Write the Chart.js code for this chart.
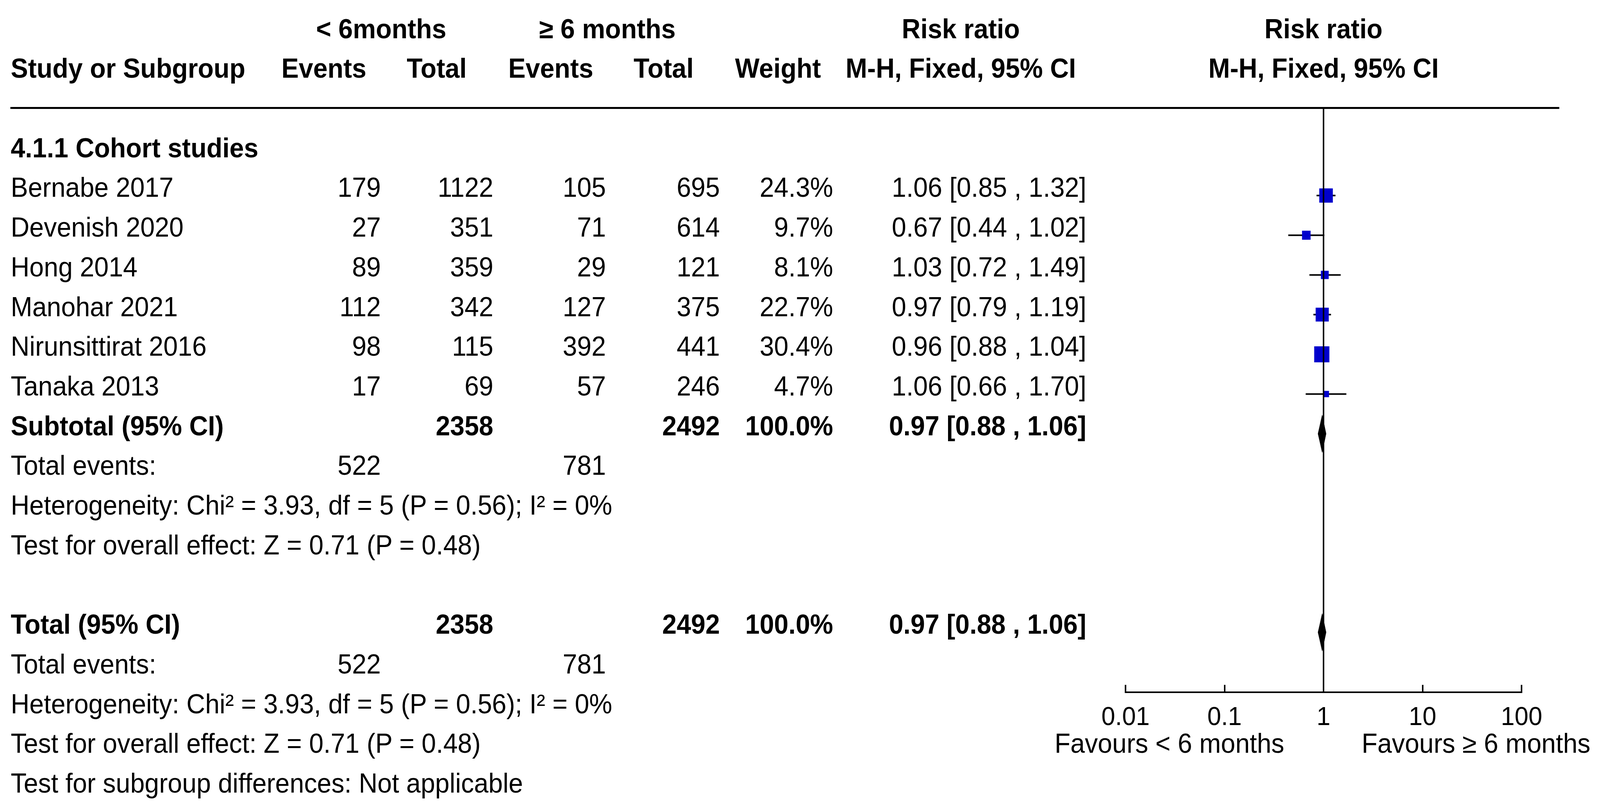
<!DOCTYPE html>
<html>
<head>
<meta charset="utf-8">
<script src="https://cdn.jsdelivr.net/npm/chart.js"></script>
<style>
  html, body { margin: 0; padding: 0; background: #fff; overflow: hidden; }
  #wrap { position: relative; width: 4323px; height: 2072px; overflow: hidden; transform-origin: 0 0; }
  #wrap canvas { position: absolute; left: 0; top: 0; }
  .t { position: absolute; font-family: "Liberation Sans", Arial, sans-serif; font-size: 70px;
       line-height: 70px; height: 70px; white-space: pre; color: #000; }
  .b { font-weight: bold; }
  #rule { position: absolute; left: 28px; width: 4185px; top: 274px; height: 5px; background: #000; }
</style>
</head>
<body>
<div id="wrap"><canvas id="forest" width="4323" height="2072"></canvas><div id="rule"></div></div>
<script>
const FONT = '"Liberation Sans", Arial, sans-serif';
Chart.defaults.font.family = FONT;

// studies in subgroup 4.1.1
const studies = ['Bernabe 2017', 'Devenish 2020', 'Hong 2014', 'Manohar 2021', 'Nirunsittirat 2016', 'Tanaka 2013'];
const eventsLt6 = [179, 27, 89, 112, 98, 17];
const totalLt6 = [1122, 351, 359, 342, 115, 69];
const eventsGe6 = [105, 71, 29, 127, 392, 57];
const totalGe6 = [695, 614, 121, 375, 441, 246];
const weights = [24.3, 9.7, 8.1, 22.7, 30.4, 4.7];
const rr = [1.06, 0.67, 1.03, 0.97, 0.96, 1.06];
const rrLow = [0.85, 0.44, 0.72, 0.79, 0.88, 0.66];
const rrHigh = [1.32, 1.02, 1.49, 1.19, 1.04, 1.70];

// pooled: estimate, lower, upper
const subtotalRR = [0.97, 0.88, 1.06];
const totalRR = [0.97, 0.88, 1.06];
const hetChi2 = 3.93, hetDf = 5, hetP = 0.56, hetI2 = 0;
const effectZ = 0.71, effectP = 0.48;

const tickValues = [0.01, 0.1, 1, 10, 100];
const tickLabels = ['0.01', '0.1', '1', '10', '100'];

// layout (rows are y values, 0 = subgroup heading)
const ROW_SUBTOTAL = 7, ROW_TOTAL = 12;
const Y_MIN = -1.2, Y_MAX = 13.51;
const DIAMOND_H = 0.47;
const COL = { study: 29, ev1: 1029, tot1: 1333, ev2: 1637, tot2: 1945, weight: 2251, ci: 2935 };
const ASC = 59.26;     // baseline offset inside a 70px line box
const BASE_DROP = 4;   // text baseline sits a little below the marker centre

const sum = a => a.reduce((s, v) => s + v, 0);
const ciText = ([e, l, h]) => `${e.toFixed(2)} [${l.toFixed(2)} , ${h.toFixed(2)}]`;

const whiskers = studies.map((s, i) => ({
  type: 'line',
  data: [{ x: rrLow[i], y: i + 1 }, { x: rrHigh[i], y: i + 1 }],
  borderColor: '#000', borderWidth: 4, pointRadius: 0, fill: false, order: 3
}));

const squares = {
  type: 'scatter',
  data: rr.map((v, i) => ({ x: v, y: i + 1 })),
  pointStyle: 'rect',
  pointRadius: weights.map(w => 7.44 * Math.sqrt(w) / Math.SQRT2),
  backgroundColor: '#0000CC', borderWidth: 0, order: 2
};

function diamond([e, l, h], row) {
  return {
    type: 'line',
    data: [{ x: l, y: row }, { x: e, y: row - DIAMOND_H }, { x: h, y: row },
           { x: e, y: row + DIAMOND_H }, { x: l, y: row }],
    borderColor: '#000', borderWidth: 1, backgroundColor: '#000',
    fill: 'shape', pointRadius: 0, tension: 0, order: 1
  };
}

const refLine = {
  type: 'line',
  data: [{ x: 1, y: Y_MIN }, { x: 1, y: Y_MAX }],
  borderColor: '#000', borderWidth: 4, pointRadius: 0, fill: false, order: 0
};

const chart = new Chart(document.getElementById('forest'), {
  type: 'scatter',
  data: { datasets: [refLine, diamond(subtotalRR, ROW_SUBTOTAL), diamond(totalRR, ROW_TOTAL), squares, ...whiskers] },
  options: {
    responsive: false,
    animation: false,
    events: [],
    layout: { padding: { left: 3041, right: 212, top: 277, bottom: 159 } },
    plugins: { legend: { display: false }, tooltip: { enabled: false } },
    scales: {
      x: {
        type: 'logarithmic',
        min: 0.01, max: 100,
        afterBuildTicks: s => { s.ticks = tickValues.map(v => ({ value: v })); },
        afterFit: s => { s.height = 140; },
        ticks: {
          callback: (v, i) => tickLabels[i],
          font: { size: 67 }, color: '#000', padding: 44,
          maxRotation: 0, autoSkip: false
        },
        grid: { drawOnChartArea: false, color: '#000', lineWidth: 4, tickLength: -19, tickWidth: 4 },
        border: { display: true, color: '#000', width: 4 }
      },
      y: { type: 'linear', display: false, reverse: true, min: Y_MIN, max: Y_MAX }
    }
  }
});

const wrap = document.getElementById('wrap');
const xs = chart.scales.x, ys = chart.scales.y;
const x1 = xs.getPixelForValue(1);

function put(str, x, row, align, bold) {
  const d = document.createElement('div');
  d.className = 't' + (bold ? ' b' : '');
  d.textContent = str;
  d.style.top = (ys.getPixelForValue(row) + BASE_DROP - ASC) + 'px';
  if (align === 'left') {
    d.style.left = x + 'px';
  } else if (align === 'right') {
    d.style.left = (x - 1200) + 'px'; d.style.width = '1200px'; d.style.textAlign = 'right';
  } else {
    d.style.left = (x - 1000) + 'px'; d.style.width = '2000px'; d.style.textAlign = 'center';
  }
  wrap.appendChild(d);
}

// header
put('< 6months', 1030, -3, 'center', true);
put('\u2265 6 months', 1641, -3, 'center', true);
put('Risk ratio', 2596, -3, 'center', true);
put('Risk ratio', x1, -3, 'center', true);
put('Study or Subgroup', COL.study, -2, 'left', true);
put('Events', 990, -2, 'right', true);
put('Total', 1261, -2, 'right', true);
put('Events', 1603, -2, 'right', true);
put('Total', 1874, -2, 'right', true);
put('Weight', 2218, -2, 'right', true);
put('M-H, Fixed, 95% CI', 2596, -2, 'center', true);
put('M-H, Fixed, 95% CI', x1, -2, 'center', true);

// subgroup
put('4.1.1 Cohort studies', COL.study, 0, 'left', true);
studies.forEach((s, i) => {
  const r = i + 1;
  put(s, COL.study, r, 'left');
  put(String(eventsLt6[i]), COL.ev1, r, 'right');
  put(String(totalLt6[i]), COL.tot1, r, 'right');
  put(String(eventsGe6[i]), COL.ev2, r, 'right');
  put(String(totalGe6[i]), COL.tot2, r, 'right');
  put(weights[i].toFixed(1) + '%', COL.weight, r, 'right');
  put(ciText([rr[i], rrLow[i], rrHigh[i]]), COL.ci, r, 'right');
});

function summary(label, row, ci) {
  put(label, COL.study, row, 'left', true);
  put(String(sum(totalLt6)), COL.tot1, row, 'right', true);
  put(String(sum(totalGe6)), COL.tot2, row, 'right', true);
  put('100.0%', COL.weight, row, 'right', true);
  put(ciText(ci), COL.ci, row, 'right', true);
  put('Total events:', COL.study, row + 1, 'left');
  put(String(sum(eventsLt6)), COL.ev1, row + 1, 'right');
  put(String(sum(eventsGe6)), COL.ev2, row + 1, 'right');
  put(`Heterogeneity: Chi\u00b2 = ${hetChi2.toFixed(2)}, df = ${hetDf} (P = ${hetP.toFixed(2)}); I\u00b2 = ${hetI2}%`,
      COL.study, row + 2, 'left');
  put(`Test for overall effect: Z = ${effectZ.toFixed(2)} (P = ${effectP.toFixed(2)})`, COL.study, row + 3, 'left');
}
summary('Subtotal (95% CI)', ROW_SUBTOTAL, subtotalRR);
summary('Total (95% CI)', ROW_TOTAL, totalRR);
put('Test for subgroup differences: Not applicable', COL.study, ROW_TOTAL + 4, 'left');

// axis captions
put('Favours < 6 months', x1 - 106, ROW_TOTAL + 3, 'right');
put('Favours \u2265 6 months', x1 + 103, ROW_TOTAL + 3, 'left');

// stretch the figure to fill the viewport when it differs from the design size
const sx = document.documentElement.clientWidth / 4323;
const sy = document.documentElement.clientHeight / 2072;
if (Math.abs(sx - 1) > 0.002 || Math.abs(sy - 1) > 0.002) wrap.style.transform = `scale(${sx}, ${sy})`;
</script>
</body>
</html>
